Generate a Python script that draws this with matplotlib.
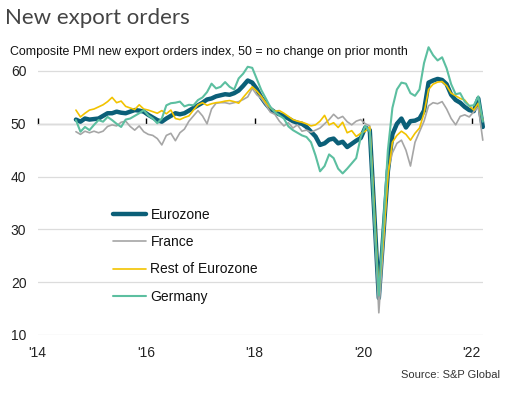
import matplotlib
matplotlib.use("Agg")
import matplotlib.pyplot as plt
import numpy as np
import pandas as pd

# ---------------- data (monthly, Sep 2014 - Mar 2022) ----------------
months = pd.date_range("2014-09-01", periods=91, freq="MS")

eurozone = [
    50.8, 50.4, 51.0, 50.8, 50.9, 51.0, 51.5, 52.0, 52.0, 52.3, 52.1, 52.0,
    52.3, 52.6, 52.5, 52.3, 51.7, 51.2, 50.7, 50.4, 51.0, 51.5, 52.0, 51.8,
    52.0, 52.5, 53.0, 53.5, 54.0, 54.6, 54.8, 55.2, 55.4, 55.6, 55.5, 55.8,
    56.3, 57.2, 58.2, 57.8, 56.6, 55.0, 53.8, 52.8, 52.2, 51.8, 51.5, 51.0,
    50.5, 50.2, 50.0, 49.4, 48.5, 47.6, 46.0, 46.3, 47.0, 47.2, 46.3, 46.6,
    45.6, 46.2, 46.8, 47.3, 49.3, 48.8, 33.0, 17.0, 29.0, 41.0, 48.0, 50.0,
    51.0, 49.3, 50.5, 50.6, 51.0, 52.5, 57.8, 58.2, 58.5, 58.3, 57.5, 55.5,
    54.5, 54.0, 53.2, 52.6, 52.4, 54.8, 49.4,
]
france = [
    48.5, 48.0, 48.6, 48.3, 48.6, 48.3, 48.6, 49.5, 49.8, 49.6, 50.3, 50.5,
    49.5, 48.8, 49.6, 48.5, 48.0, 47.8, 47.2, 46.0, 47.8, 48.2, 46.8, 48.3,
    49.0, 50.5, 51.5, 52.5, 51.5, 50.0, 52.8, 53.9, 54.0, 54.0, 53.8, 54.0,
    54.2, 54.6, 55.1, 56.7, 55.5, 54.8, 53.6, 52.2, 51.8, 50.5, 49.6, 50.2,
    49.2, 49.8, 48.6, 48.8, 48.4, 48.8, 49.2, 50.0, 50.8, 51.8, 51.0, 51.4,
    50.4, 49.8, 50.5, 50.8, 50.0, 49.6, 32.0, 14.2, 27.0, 41.0, 44.5, 46.3,
    46.9, 45.0, 42.0, 46.5, 48.5, 50.5, 53.4, 54.0, 53.8, 54.2, 52.8, 51.0,
    49.8, 51.4, 51.7, 51.3, 52.3, 53.2, 46.9,
]
rest_of_eurozone = [
    52.6, 51.3, 52.0, 52.6, 52.8, 53.2, 53.6, 54.2, 55.0, 54.0, 54.3, 53.3,
    53.0, 52.7, 53.6, 52.8, 52.6, 52.3, 52.0, 52.5, 51.9, 52.6, 51.0, 50.8,
    51.2, 51.5, 52.6, 53.6, 54.0, 53.5, 53.8, 54.0, 54.1, 54.3, 54.4, 54.2,
    53.9, 55.0, 56.0, 57.0, 56.2, 55.2, 54.0, 53.0, 52.4, 52.5, 52.0, 51.4,
    50.8, 50.5, 50.3, 50.0, 49.6, 49.8, 50.5, 51.6, 49.8, 50.2, 49.3, 50.3,
    48.3, 48.7, 47.6, 48.2, 48.6, 49.4, 34.0, 18.0, 28.0, 40.0, 46.5, 47.8,
    48.6, 48.0, 46.9, 48.2, 49.2, 52.0, 56.5, 57.5, 57.9, 58.0, 57.2, 55.8,
    55.3, 54.8, 54.5, 53.4, 52.6, 53.9, 50.7,
]
germany = [
    50.7, 48.5, 49.4, 48.8, 49.8, 50.7, 50.4, 51.3, 50.7, 50.0, 49.4, 50.8,
    51.0, 51.5, 52.0, 52.6, 51.6, 51.0, 50.1, 51.0, 53.5, 53.9, 54.0, 54.2,
    53.3, 53.6, 53.5, 54.5, 55.0, 56.0, 57.6, 56.7, 57.0, 57.9, 57.0, 56.5,
    58.6, 59.5, 60.8, 60.6, 58.5, 56.4, 54.8, 53.2, 52.2, 51.6, 51.0, 49.5,
    48.8, 48.3, 47.8, 47.5, 46.5, 44.0, 41.0, 42.0, 44.2, 43.5, 41.5, 40.6,
    41.5, 42.5, 43.5, 47.5, 49.6, 48.5, 32.0, 17.5, 31.0, 45.0, 53.0, 56.5,
    57.8, 57.6, 55.8, 55.3, 56.5, 61.5, 64.5, 63.0, 62.0, 62.6, 60.5, 57.5,
    55.6, 55.8, 54.2, 53.4, 53.5, 55.2, 50.4,
]

series_names = ["Eurozone", "France", "Rest of Eurozone", "Germany"]
y_ticks = [10, 20, 30, 40, 50, 60]
x_tick_years = [2014, 2016, 2018, 2020, 2022]
x_tick_labels = ["'14", "'16", "'18", "'20", "'22"]

title = "New export orders"
subtitle = "Composite PMI new export orders index, 50 = no change on prior month"
source = "Source: S&P Global"

# ---------------- styling ----------------
plt.rcParams["font.family"] = ["Liberation Sans", "DejaVu Sans"]
colors = {"Eurozone": "#0B5F78", "France": "#A6A6A6",
          "Rest of Eurozone": "#F2C300", "Germany": "#5CBFA0"}
widths = {"Eurozone": 3.2, "France": 1.2, "Rest of Eurozone": 1.2, "Germany": 1.5}

W, H = 514, 393
fig = plt.figure(figsize=(W / 100, H / 100), dpi=100)
ylo, yhi = 10, 65
ax_left, ax_right = 37.5, 483.0
ax_bottom_px, px_per_unit = 335.0, 5.28
ax = fig.add_axes([ax_left / W, (H - ax_bottom_px) / H,
                   (ax_right - ax_left) / W, (yhi - ylo) * px_per_unit / H])

xpos = months.year + (months.month - 1 + 0.5) / 12.0

data = {"Eurozone": eurozone, "France": france,
        "Rest of Eurozone": rest_of_eurozone, "Germany": germany}
for i, name in enumerate(series_names):
    ax.plot(xpos, data[name], color=colors[name], lw=widths[name],
            label=name, solid_capstyle="round", solid_joinstyle="round",
            zorder=3 + i, clip_on=False)

ax.set_xlim(2014.0, 2014.0 + (ax_right - ax_left) / 54.25)
ax.set_ylim(ylo, yhi)
ax.set_yticks(y_ticks)
ax.set_yticklabels([str(v) for v in y_ticks])
ax.set_xticks(x_tick_years)
ax.set_xticklabels(x_tick_labels)
ax.tick_params(axis="both", length=0, labelsize=10, colors="#222222")
ax.tick_params(axis="y", pad=8)
ax.tick_params(axis="x", pad=8)
for s in ax.spines.values():
    s.set_visible(False)
ax.grid(axis="y", color="#DCDCDC", lw=0.9, zorder=0)
ax.grid(axis="x", visible=False)

# 50 baseline with downward ticks
sec = ax.secondary_xaxis((50 - ylo) / (yhi - ylo))
sec.set_xticks(x_tick_years)
sec.set_xticklabels([""] * len(x_tick_years))
sec.tick_params(axis="x", direction="out", length=4, width=1.0, color="black")
sec.spines["bottom"].set_color("black")
sec.spines["bottom"].set_linewidth(1.4)
sec.spines["bottom"].set_zorder(10)

leg = ax.legend(loc="upper left", bbox_to_anchor=(113 / W, 1 - 208 / H),
                bbox_transform=fig.transFigure, frameon=False, fontsize=10,
                handlelength=2.4, handletextpad=0.3, labelspacing=0.95,
                borderpad=0, borderaxespad=0)
for t in leg.get_texts():
    t.set_color("#111111")

fig.text(5 / W, 1 - 18 / H, title, fontsize=16, color="#444444",
         family=["Lato", "DejaVu Sans"], va="center", ha="left")
fig.text(10 / W, 1 - 52 / H, subtitle, fontsize=8.9, color="#111111",
         va="center", ha="left")
fig.text(500 / W, 1 - 375 / H, source, fontsize=8, color="#333333",
         va="center", ha="right")

fig.savefig("out.png", dpi=100)
